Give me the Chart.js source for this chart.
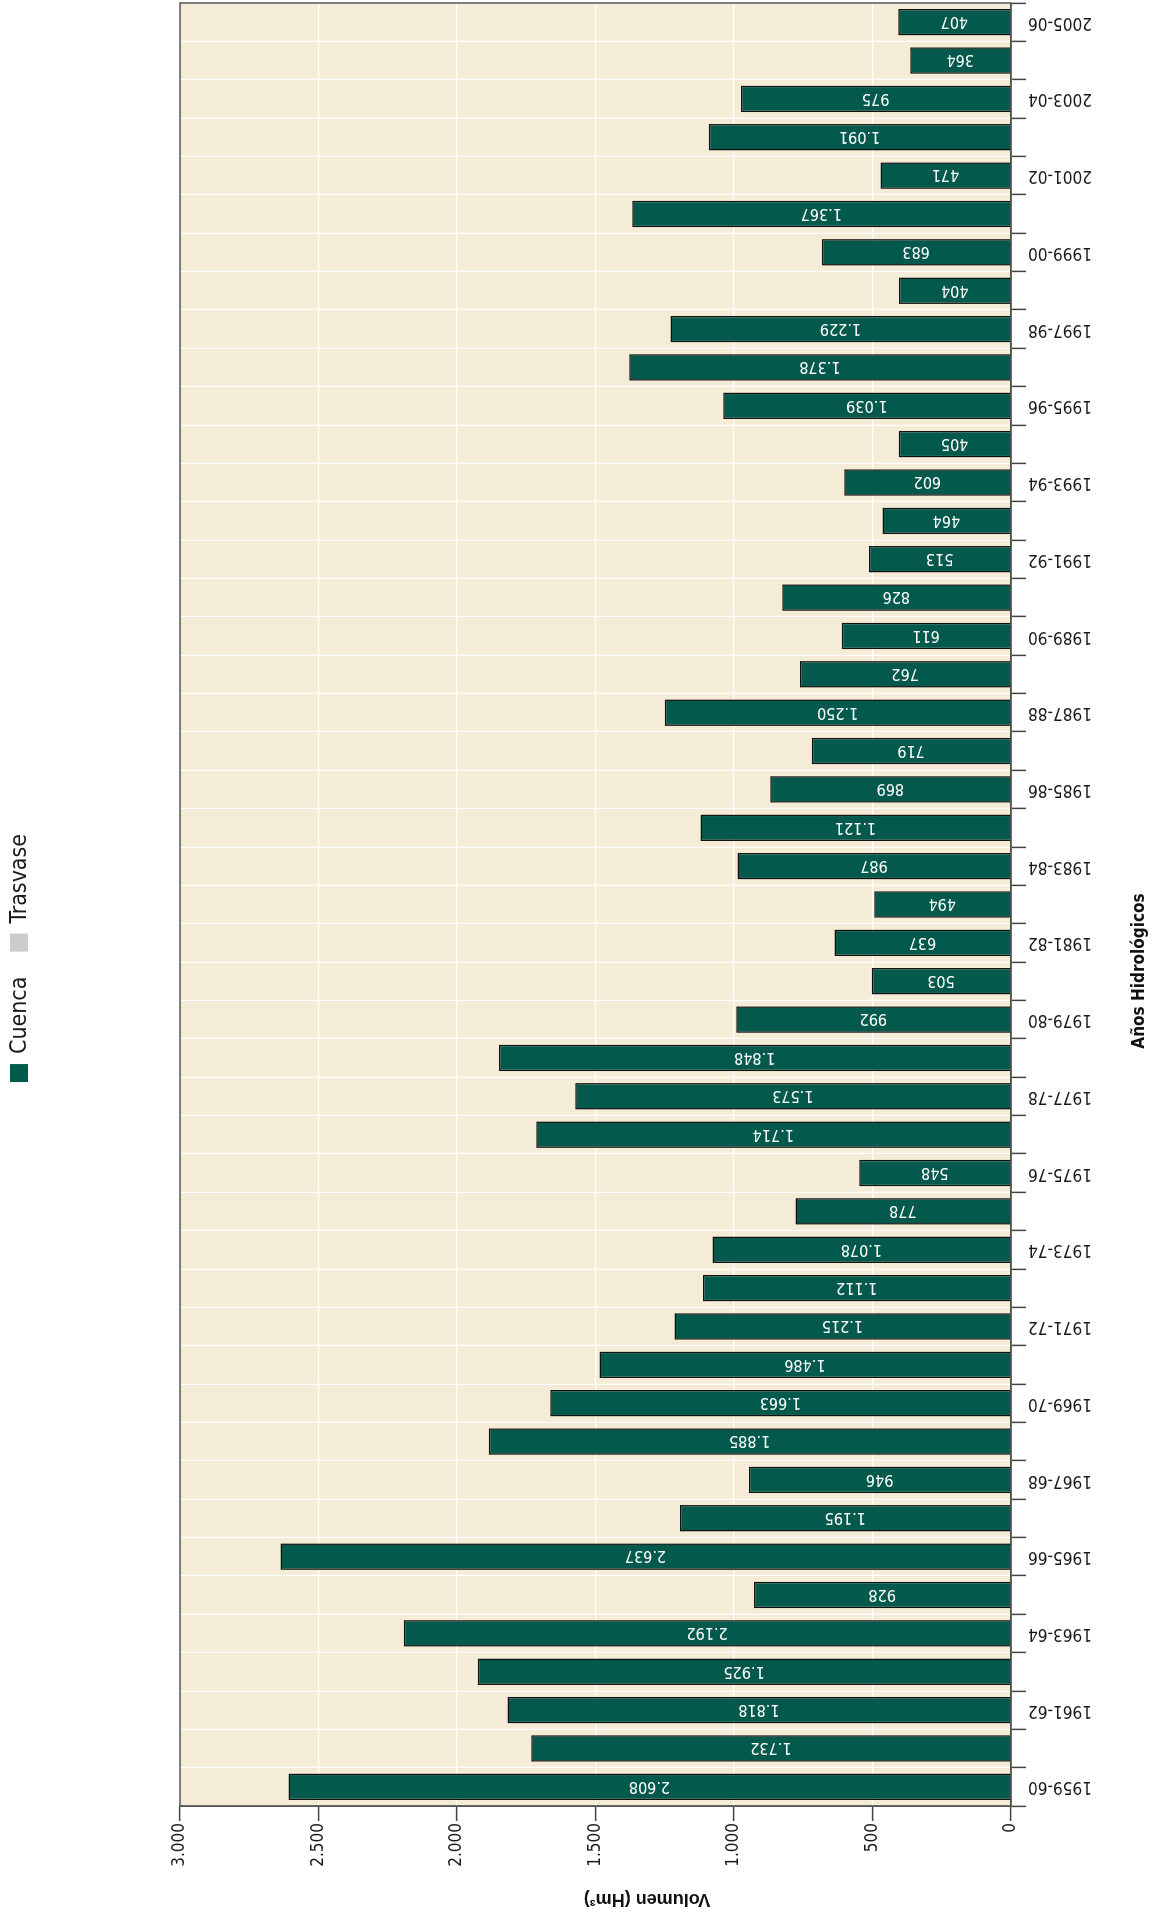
<!DOCTYPE html>
<html lang="es">
<head>
<meta charset="utf-8">
<title>Volumen por año hidrológico</title>
<script src="https://cdn.jsdelivr.net/npm/chart.js@4.4.1/dist/chart.umd.min.js"></script>
<style>
  html, body { margin: 0; padding: 0; background: #fff; overflow: hidden; }
  /* the chart is laid out landscape and turned a quarter turn to the left */
  #wrap {
    position: absolute; left: 0; top: 0;
    width: 1916px; height: 1162px;
    transform-origin: 0 0;
    transform: translate(0, 1916px) rotate(-90deg);
  }
</style>
</head>
<body>
<div id="wrap"><canvas id="volChart" width="1916" height="1162"></canvas></div>
<script>
// Hydrological years
const years = [
    '1959-60', '1960-61', '1961-62', '1962-63', '1963-64', '1964-65', '1965-66', '1966-67',
    '1967-68', '1968-69', '1969-70', '1970-71', '1971-72', '1972-73', '1973-74', '1974-75',
    '1975-76', '1976-77', '1977-78', '1978-79', '1979-80', '1980-81', '1981-82', '1982-83',
    '1983-84', '1984-85', '1985-86', '1986-87', '1987-88', '1988-89', '1989-90', '1990-91',
    '1991-92', '1992-93', '1993-94', '1994-95', '1995-96', '1996-97', '1997-98', '1998-99',
    '1999-00', '2000-01', '2001-02', '2002-03', '2003-04', '2004-05', '2005-06'
];

// Volume from the basin itself (Hm3)
const cuenca = [
    2608, 1732, 1818, 1925, 2192, 928, 2637, 1195,
    946, 1885, 1663, 1486, 1215, 1112, 1078, 778,
    548, 1714, 1573, 1848, 992, 503, 637, 494,
    987, 1121, 869, 719, 1250, 762, 611, 826,
    513, 464, 602, 405, 1039, 1378, 1229, 404,
    683, 1367, 471, 1091, 975, 364, 407
];

// Transferred volume (no values in this series)
const trasvase = [];

const NARROW = "'Liberation Sans Narrow', 'Arial Narrow', 'DejaVu Sans Condensed', sans-serif";
const WIDE = "'Liberation Sans', Arial, sans-serif";

// 2608 -> "2.608"
function fmt(v) {
    return String(v).replace(/\B(?=(\d{3})+(?!\d))/g, '.');
}

// Beige plot background and a thin frame around it
const plotFrame = {
    id: 'plotFrame',
    beforeDraw(chart) {
        const { ctx, chartArea: a } = chart;
        ctx.save();
        ctx.fillStyle = '#f5ecd7';
        ctx.fillRect(a.left, a.top, a.width, a.height);
        ctx.restore();
    },
    afterDatasetsDraw(chart) {
        const { ctx, chartArea: a } = chart;
        ctx.save();
        ctx.strokeStyle = '#555';
        ctx.lineWidth = 1.5;
        ctx.strokeRect(a.left, a.top, a.width, a.height);
        ctx.restore();
    }
};

// White value written inside each bar, running along the bar
const valueLabels = {
    id: 'valueLabels',
    afterDatasetsDraw(chart) {
        const ctx = chart.ctx;
        const meta = chart.getDatasetMeta(0);
        const data = chart.data.datasets[0].data;
        ctx.save();
        ctx.fillStyle = '#ffffff';
        ctx.font = '16px ' + NARROW;
        ctx.textAlign = 'center';
        ctx.textBaseline = 'middle';
        meta.data.forEach((bar, i) => {
            ctx.save();
            ctx.translate(bar.x, (bar.y + bar.base) / 2);
            ctx.rotate(-Math.PI / 2);
            ctx.fillText(fmt(data[i]), 0, 1);
            ctx.restore();
        });
        ctx.restore();
    }
};

// Legend along the top edge, centred on the canvas
const topLegend = {
    id: 'topLegend',
    afterDraw(chart) {
        const ctx = chart.ctx;
        const box = 18, gap = 10, spacing = 25, y = 10;
        ctx.save();
        ctx.font = '23px ' + NARROW;
        const items = chart.data.datasets.map(ds => ({
            text: ds.label,
            color: ds.backgroundColor,
            w: ctx.measureText(ds.label).width
        }));
        const total = items.reduce((s, it) => s + box + gap + it.w, 0) + spacing * (items.length - 1);
        let x = chart.width / 2 - total / 2;
        ctx.textBaseline = 'middle';
        ctx.textAlign = 'left';
        items.forEach(it => {
            ctx.fillStyle = it.color;
            ctx.fillRect(x, y, box, box);
            ctx.fillStyle = '#1a1a1a';
            ctx.fillText(it.text, x + box + gap, y + box / 2 + 1);
            x += box + gap + it.w + spacing;
        });
        ctx.restore();
    }
};

// Axis titles
const axisTitles = {
    id: 'axisTitles',
    afterDraw(chart) {
        const ctx = chart.ctx;
        ctx.save();
        ctx.fillStyle = '#111';
        ctx.textAlign = 'center';
        ctx.textBaseline = 'middle';

        ctx.font = 'bold 18px ' + WIDE;
        ctx.save();
        ctx.translate(17, 647);
        ctx.rotate(-Math.PI / 2);
        ctx.fillText('Volumen (Hm³)', 0, 0);
        ctx.restore();

        ctx.font = 'bold 17px ' + NARROW;
        ctx.fillText('Años Hidrológicos', 945, 1140);
        ctx.restore();
    }
};

new Chart(document.getElementById('volChart'), {
    type: 'bar',
    data: {
        labels: years,
        datasets: [
            {
                label: 'Cuenca',
                data: cuenca,
                backgroundColor: '#03594b',
                borderColor: '#111',
                borderWidth: 1.5,
                barPercentage: 0.69,
                categoryPercentage: 1
            },
            {
                label: 'Trasvase',
                data: trasvase,
                backgroundColor: '#cccccc',
                borderColor: '#111',
                borderWidth: 1.5,
                barPercentage: 0.69,
                categoryPercentage: 1
            }
        ]
    },
    options: {
        responsive: false,
        animation: false,
        devicePixelRatio: 1,
        layout: { padding: { top: 180, right: 3, bottom: 0, left: 0 } },
        plugins: {
            legend: { display: false },
            tooltip: { enabled: false }
        },
        scales: {
            x: {
                stacked: true,
                grid: {
                    offset: true,
                    color: '#ffffff',
                    lineWidth: 1.2,
                    tickColor: '#444',
                    tickWidth: 1.5,
                    tickLength: 15
                },
                border: { color: '#555', width: 1.5 },
                ticks: {
                    autoSkip: false,
                    minRotation: 90,
                    maxRotation: 90,
                    padding: 2,
                    color: '#1a1a1a',
                    font: { family: NARROW, size: 17 },
                    callback: (v, i) => (i % 2 === 0 ? years[i] : '')
                },
                afterFit: s => {
                    s.height = 151;
                    s.paddingLeft = 0;
                    s.paddingRight = 0;
                }
            },
            y: {
                stacked: true,
                min: 0,
                max: 3000,
                grid: {
                    color: '#ffffff',
                    lineWidth: 1.2,
                    tickColor: '#444',
                    tickWidth: 1.5,
                    tickLength: 15
                },
                border: { color: '#555', width: 1.5 },
                ticks: {
                    stepSize: 500,
                    padding: 2,
                    color: '#1a1a1a',
                    font: { family: NARROW, size: 17 },
                    callback: v => fmt(v)
                },
                afterFit: s => {
                    s.width = 110;
                }
            }
        }
    },
    plugins: [plotFrame, valueLabels, topLegend, axisTitles]
});
</script>
</body>
</html>
